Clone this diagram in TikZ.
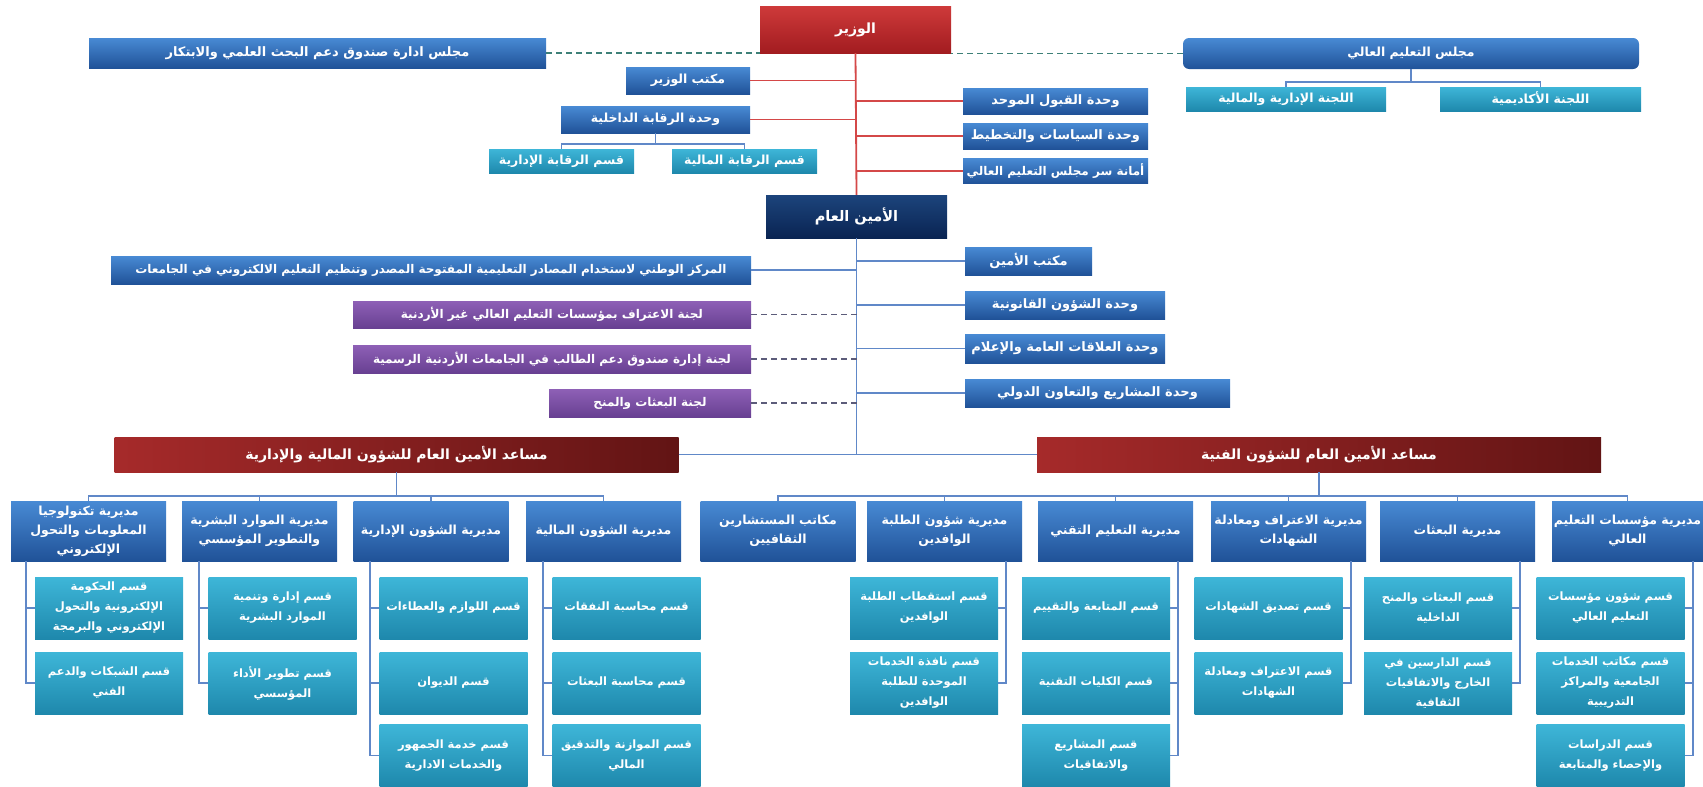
\documentclass[tikz,border=0pt]{standalone}
\usepackage{fontspec}
\newfontfamily\arabicfont[Script=Arabic]{DejaVu Sans}
\TeXXeTstate=1
\newcommand{\AR}[1]{\beginR #1\endR}

\begin{document}
\begin{tikzpicture}[x=1pt,y=-1pt,
  box/.style={text=white,align=center,inner sep=1pt,font=\arabicfont\bfseries\fontsize{12.5}{19}\selectfont},
  bluebox/.style={box,top color=kBlueTop,bottom color=kBlueBot},
  unitbox/.style={bluebox,font=\arabicfont\bfseries\fontsize{13}{19}\selectfont},
  tealbox/.style={box,top color=kTealTop,bottom color=kTealBot},
  purplebox/.style={box,top color=kPurpTop,bottom color=kPurpBot,font=\arabicfont\bfseries\fontsize{12}{19}\selectfont},
  dirbox/.style={bluebox,minimum width=155pt,minimum height=60pt},
  subbox/.style={tealbox,minimum width=148pt,minimum height=62pt,font=\arabicfont\bfseries\fontsize{11.5}{20}\selectfont},
  asstbox/.style={box,left color=kRedL,right color=kRedR,minimum width=564pt,minimum height=35pt,font=\arabicfont\bfseries\fontsize{14}{19}\selectfont},
  bline/.style={color=kLine,line width=1.8pt},
  rline/.style={color=kRedLine,line width=1.8pt},
  gdash/.style={color=kDashG,line width=1.8pt,dash pattern=on 6pt off 4pt},
  pdash/.style={color=kDashP,line width=1.8pt,dash pattern=on 6pt off 4pt}]
  \definecolor{kBlueTop}{RGB}{72,138,212}
  \definecolor{kBlueBot}{RGB}{32,82,152}
  \definecolor{kTealTop}{RGB}{62,182,216}
  \definecolor{kTealBot}{RGB}{30,136,172}
  \definecolor{kPurpTop}{RGB}{142,96,182}
  \definecolor{kPurpBot}{RGB}{104,64,146}
  \definecolor{kNavyTop}{RGB}{28,68,124}
  \definecolor{kNavyBot}{RGB}{10,36,82}
  \definecolor{kRedTop}{RGB}{206,58,58}
  \definecolor{kRedBot}{RGB}{162,28,32}
  \definecolor{kRedL}{RGB}{166,42,42}
  \definecolor{kRedR}{RGB}{98,20,20}
  \definecolor{kLine}{RGB}{96,136,200}
  \definecolor{kRedLine}{RGB}{212,72,72}
  \definecolor{kDashG}{RGB}{62,128,120}
  \definecolor{kDashP}{RGB}{92,92,122}

  \useasboundingbox (0,0) rectangle (1703,787);

  % minister and councils
  \node[box,top color=kRedTop,bottom color=kRedBot,minimum width=191pt,minimum height=47pt,font=\arabicfont\bfseries\fontsize{14}{16}\selectfont] (minister) at (855.5,29.5) {\AR{الوزير}};
  \node[bluebox,minimum width=457pt,minimum height=30pt,font=\arabicfont\bfseries\fontsize{13}{19}\selectfont] (fundboard) at (317.5,53) {\AR{مجلس ادارة صندوق دعم البحث العلمي والابتكار}};
  \node[bluebox,rounded corners=6pt,minimum width=456pt,minimum height=31pt] (council) at (1411,53.5) {\AR{مجلس التعليم العالي}};
  \node[tealbox,minimum width=200pt,minimum height=24pt] (admfincomm) at (1286,99) {\AR{اللجنة الإدارية والمالية}};
  \node[tealbox,minimum width=201pt,minimum height=24pt] (acadcomm) at (1540.5,99) {\AR{اللجنة الأكاديمية}};

  \node[bluebox,minimum width=124pt,minimum height=27pt] (minoffice) at (688,80.5) {\AR{مكتب الوزير}};
  \node[bluebox,minimum width=189pt,minimum height=27pt] (audit) at (655.5,119.5) {\AR{وحدة الرقابة الداخلية}};
  \node[tealbox,minimum width=145pt,minimum height=24pt] (finaudit) at (744.5,161) {\AR{قسم الرقابة المالية}};
  \node[tealbox,minimum width=145pt,minimum height=24pt] (admaudit) at (561.5,161) {\AR{قسم الرقابة الإدارية}};

  \node[unitbox,minimum width=185pt,minimum height=26pt] (admission) at (1055.5,101) {\AR{وحدة القبول الموحد}};
  \node[unitbox,minimum width=185pt,minimum height=26pt] (policy) at (1055.5,136) {\AR{وحدة السياسات والتخطيط}};
  \node[unitbox,minimum width=185pt,minimum height=25pt,inner sep=0pt,font=\arabicfont\bfseries\fontsize{12}{19}\selectfont] (secretariat) at (1055.5,171) {\AR{أمانة سر مجلس التعليم العالي}};

  % secretary general
  \node[box,top color=kNavyTop,bottom color=kNavyBot,minimum width=181pt,minimum height=43pt,font=\arabicfont\bfseries\fontsize{14.5}{16}\selectfont] (secgen) at (856.5,216.5) {\AR{الأمين العام}};
  \node[bluebox,minimum width=640pt,minimum height=28pt,font=\arabicfont\bfseries\fontsize{12}{19}\selectfont] (natcenter) at (431,270) {\AR{المركز الوطني لاستخدام المصادر التعليمية المفتوحة المصدر وتنظيم التعليم الالكتروني في الجامعات}};
  \node[purplebox,minimum width=398pt,minimum height=27pt] (recogcomm) at (552,314.5) {\AR{لجنة الاعتراف بمؤسسات التعليم العالي غير الأردنية}};
  \node[purplebox,minimum width=398pt,minimum height=28pt] (fundcomm) at (552,359) {\AR{لجنة إدارة صندوق دعم الطالب في الجامعات الأردنية الرسمية}};
  \node[purplebox,minimum width=202pt,minimum height=28pt] (scholcomm) at (650,403) {\AR{لجنة البعثات والمنح}};
  \node[unitbox,minimum width=127pt,minimum height=28pt] (sgoffice) at (1028.5,261) {\AR{مكتب الأمين}};
  \node[unitbox,minimum width=200pt,minimum height=28pt] (legal) at (1065,305) {\AR{وحدة الشؤون القانونية}};
  \node[unitbox,minimum width=200pt,minimum height=29pt] (media) at (1065,348.5) {\AR{وحدة العلاقات العامة والإعلام}};
  \node[unitbox,minimum width=265pt,minimum height=28pt] (projects) at (1097.5,393) {\AR{وحدة المشاريع والتعاون الدولي}};

  % assistants
  \node[asstbox] (asstfin) at (396.5,454.5) {\AR{مساعد الأمين العام للشؤون المالية والإدارية}};
  \node[asstbox] (assttech) at (1319,454.5) {\AR{مساعد الأمين العام للشؤون الفنية}};

  % directorates
  \node[dirbox] (itdir) at (88.5,531) {\AR{مديرية تكنولوجيا}\\\AR{المعلومات والتحول}\\\AR{الإلكتروني}};
  \node[dirbox] (hrdir) at (259.5,531) {\AR{مديرية الموارد البشرية}\\\AR{والتطوير المؤسسي}};
  \node[dirbox] (admdir) at (431,531) {\AR{مديرية الشؤون الإدارية}};
  \node[dirbox] (findir) at (603.5,531) {\AR{مديرية الشؤون المالية}};
  \node[dirbox] (cultdir) at (778,531) {\AR{مكاتب المستشارين}\\\AR{الثقافيين}};
  \node[dirbox] (incdir) at (944.5,531) {\AR{مديرية شؤون الطلبة}\\\AR{الوافدين}};
  \node[dirbox] (techdir) at (1115.5,531) {\AR{مديرية التعليم التقني}};
  \node[dirbox] (recdir) at (1288.5,531) {\AR{مديرية الاعتراف ومعادلة}\\\AR{الشهادات}};
  \node[dirbox] (schdir) at (1457.5,531) {\AR{مديرية البعثات}};
  \node[dirbox,minimum width=151pt] (insdir) at (1627.5,531) {\AR{مديرية مؤسسات التعليم}\\\AR{العالي}};

  % sections
  \node[subbox] (it1) at (109,608) {\AR{قسم الحكومة}\\\AR{الإلكترونية والتحول}\\\AR{الإلكتروني والبرمجة}};
  \node[subbox] (it2) at (109,683) {\AR{قسم الشبكات والدعم}\\\AR{الفني}};
  \node[subbox] (hr1) at (282.5,608) {\AR{قسم إدارة وتنمية}\\\AR{الموارد البشرية}};
  \node[subbox] (hr2) at (282.5,683) {\AR{قسم تطوير الأداء}\\\AR{المؤسسي}};
  \node[subbox] (adm1) at (453.5,608) {\AR{قسم اللوازم والعطاءات}};
  \node[subbox] (adm2) at (453.5,683) {\AR{قسم الديوان}};
  \node[subbox] (adm3) at (453.5,755.5) {\AR{قسم خدمة الجمهور}\\\AR{والخدمات الادارية}};
  \node[subbox] (fin1) at (626.5,608) {\AR{قسم محاسبة النفقات}};
  \node[subbox] (fin2) at (626.5,683) {\AR{قسم محاسبة البعثات}};
  \node[subbox] (fin3) at (626.5,755.5) {\AR{قسم الموازنة والتدقيق}\\\AR{المالي}};
  \node[subbox] (inc1) at (924,608) {\AR{قسم استقطاب الطلبة}\\\AR{الوافدين}};
  \node[subbox] (inc2) at (924,683) {\AR{قسم نافذة الخدمات}\\\AR{الموحدة للطلبة}\\\AR{الوافدين}};
  \node[subbox] (tech1) at (1096,608) {\AR{قسم المتابعة والتقييم}};
  \node[subbox] (tech2) at (1096,683) {\AR{قسم الكليات التقنية}};
  \node[subbox] (tech3) at (1096,755.5) {\AR{قسم المشاريع}\\\AR{والاتفاقيات}};
  \node[subbox] (rec1) at (1268.5,608) {\AR{قسم تصديق الشهادات}};
  \node[subbox] (rec2) at (1268.5,683) {\AR{قسم الاعتراف ومعادلة}\\\AR{الشهادات}};
  \node[subbox] (sch1) at (1438,608) {\AR{قسم البعثات والمنح}\\\AR{الداخلية}};
  \node[subbox] (sch2) at (1438,683) {\AR{قسم الدارسين في}\\\AR{الخارج والاتفاقيات}\\\AR{الثقافية}};
  \node[subbox] (ins1) at (1610.5,608) {\AR{قسم شؤون مؤسسات}\\\AR{التعليم العالي}};
  \node[subbox] (ins2) at (1610.5,683) {\AR{قسم مكاتب الخدمات}\\\AR{الجامعية والمراكز}\\\AR{التدريبية}};
  \node[subbox] (ins3) at (1610.5,755.5) {\AR{قسم الدراسات}\\\AR{والإحصاء والمتابعة}};

  % minister lines
  \draw[rline] (minister.south) -- (secgen.north);
  \foreach \n in {minoffice,audit}
    \draw[rline] (\n.east) -- (\n.east -| minister.south);
  \foreach \n in {admission,policy,secretariat}
    \draw[rline] (\n.west) -- (\n.west -| minister.south);
  \draw[gdash] (fundboard.east) -- (fundboard.east -| minister.west);
  \draw[gdash] (council.west) -- (council.west -| minister.east);

  \coordinate (cbus) at (1411,82);
  \draw[bline] (council.south) -- (cbus);
  \foreach \n in {admfincomm,acadcomm}
    \draw[bline] (\n.north) |- (cbus);
  \coordinate (abus) at (655.5,144);
  \draw[bline] (audit.south) -- (abus);
  \foreach \n in {finaudit,admaudit}
    \draw[bline] (\n.north) |- (abus);

  % secretary general lines
  \draw[bline] (secgen.south) -- (secgen.south |- asstfin.east);
  \draw[bline] (asstfin.east) -- (assttech.west);
  \draw[bline] (natcenter.east) -- (natcenter.east -| secgen.south);
  \foreach \n in {sgoffice,legal,media,projects}
    \draw[bline] (\n.west) -- (\n.west -| secgen.south);
  \foreach \n in {recogcomm,fundcomm,scholcomm}
    \draw[pdash] (\n.east) -- (\n.east -| secgen.south);

  % directorate buses
  \coordinate (lbus) at (396.5,496);
  \coordinate (rbus) at (1319,496);
  \draw[bline] (asstfin.south) -- (lbus);
  \draw[bline] (assttech.south) -- (rbus);
  \foreach \d in {itdir,hrdir,admdir,findir}
    \draw[bline] (\d.north) |- (lbus);
  \foreach \d in {cultdir,incdir,techdir,recdir,schdir,insdir}
    \draw[bline] (\d.north) |- (rbus);

  % section lines
  \foreach \d/\s/\k in {itdir/it/2,hrdir/hr/2,admdir/adm/3,findir/fin/3}{
    \draw[bline] ([xshift=-9pt]\s1.west |- \d.south) |- (\s\k.west);
    \foreach \j in {1,...,\k}
      \draw[bline] (\s\j.west) -- ++(-9,0);
  }
  \foreach \d/\s/\k in {incdir/inc/2,techdir/tech/3,recdir/rec/2,schdir/sch/2,insdir/ins/3}{
    \draw[bline] ([xshift=8pt]\s1.east |- \d.south) |- (\s\k.east);
    \foreach \j in {1,...,\k}
      \draw[bline] (\s\j.east) -- ++(8,0);
  }
\end{tikzpicture}
\end{document}
